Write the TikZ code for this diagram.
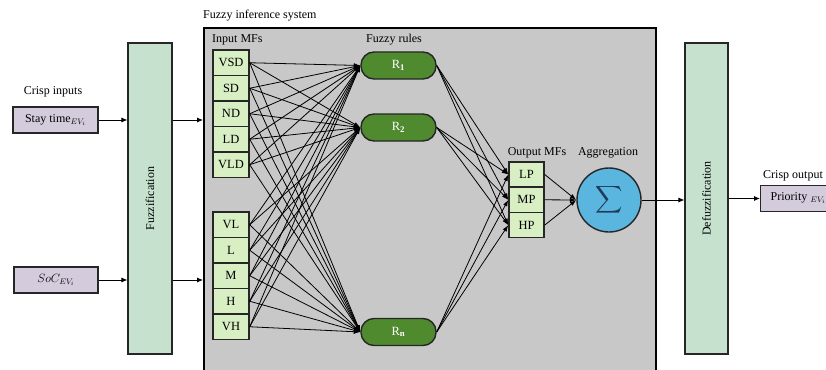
\documentclass[tikz,border=0pt]{standalone}
\usepackage{fontspec}
\setmainfont{Liberation Serif}
\usetikzlibrary{arrows.meta}
\definecolor{fisgrey}{HTML}{C8C8C8}
\definecolor{barfill}{HTML}{C6E2CF}
\definecolor{inbox}{HTML}{D4CCDC}
\definecolor{mffill}{HTML}{D8EFC4}
\definecolor{rulefill}{HTML}{4F8A2F}
\definecolor{sigfill}{HTML}{5AB6DE}
\definecolor{sigtext}{HTML}{1F3A5A}
\begin{document}
\begin{tikzpicture}[x=1pt,y=-1pt,
  font=\fontsize{12}{14}\selectfont,
  fisbox/.style={draw=black,line width=1.8pt,fill=fisgrey,minimum width=452pt,minimum height=360pt,anchor=north west,inner sep=0pt},
  barbox/.style={draw=black!85,line width=1.1pt,fill=barfill,minimum width=44pt,minimum height=311pt,inner sep=0pt},
  crispbox/.style={draw=black!85,line width=1.4pt,fill=inbox,minimum height=26pt,inner sep=2pt},
  mfbox/.style={draw=black!85,line width=1.4pt,fill=mffill,minimum width=36pt,minimum height=25.5pt,inner sep=0pt,font=\fontsize{12.5}{14}\selectfont},
  omfbox/.style={draw=black!85,line width=1.4pt,fill=mffill,minimum width=35pt,minimum height=25.3pt,inner sep=0pt,font=\fontsize{12.5}{14}\selectfont},
  rulebox/.style={draw=black!85,line width=1.4pt,fill=rulefill,rounded corners=13pt,minimum width=75pt,minimum height=27pt,inner sep=0pt,text=white,font=\fontsize{12.5}{14}\selectfont},
  sigbox/.style={circle,draw=black!85,line width=1.4pt,fill=sigfill,minimum size=64pt,inner sep=0pt,text=sigtext},
  lbl/.style={inner sep=0pt},
  arr/.style={line width=0.9pt,-{Latex[length=6pt,width=5pt]}},
  conn/.style={line width=0.8pt,-{Latex[length=6.5pt,width=4.5pt]}}
]
\useasboundingbox (0,0) rectangle (826,369);
\clip (0,0) rectangle (826,369);

% FIS box
\node[fisbox] (fis) at (203,27) {};
\node[lbl,anchor=west] (fistitle) at (203,16) {Fuzzy inference system};

% Crisp inputs
\node[lbl] (crispin) at (53,92) {Crisp inputs};
\node[crispbox,minimum width=85pt] (stay) at (55.5,120) {Stay time$_{EV_i}$};
\node[crispbox,minimum width=84pt] (soc) at (56,280) {$SoC_{EV_i}$};

% Fuzzification
\node[barbox] (fuzz) at (150,198.5) {};
\node[lbl,rotate=90] (fuzzt) at (fuzz.center) {Fuzzification};

% Defuzzification
\node[barbox,minimum width=43pt] (defuzz) at (706.5,198.5) {};
\node[lbl,rotate=90] (defuzzt) at (defuzz.center) {Defuzzification};

% arrows in
\draw[arr] (stay.east) -- (stay.east -| fuzz.west);
\draw[arr] (soc.east) -- (soc.east -| fuzz.west);
\coordinate (f1) at (stay.east -| fuzz.east);
\coordinate (f2) at (soc.east -| fuzz.east);
\draw[arr] (f1) -- (f1 -| fis.west);
\draw[arr] (f2) -- (f2 -| fis.west);

% Input MFs
\node[lbl,anchor=west] (inmf) at (212,40) {Input MFs};
\node[mfbox] (vsd) at (231,62.75) {VSD};
\node[mfbox] (sd)  at (231,88.25) {SD};
\node[mfbox] (nd)  at (231,113.75) {ND};
\node[mfbox] (ld)  at (231,139.25) {LD};
\node[mfbox] (vld) at (231,164.75) {VLD};
\node[mfbox] (vl)  at (231,224.75) {VL};
\node[mfbox] (l)   at (231,250.25) {L};
\node[mfbox] (m)   at (231,275.75) {M};
\node[mfbox] (h)   at (231,301.25) {H};
\node[mfbox] (vh)  at (231,326.75) {VH};

% Rules
\node[lbl] (rulest) at (394,40) {Fuzzy rules};
\node[rulebox] (r1) at (398.5,65.5) {R$_{\mathbf{1}}$};
\node[rulebox] (r2) at (398.5,127.5) {R$_{\mathbf{2}}$};
\node[rulebox] (rn) at (398.5,332) {R$_{\mathbf{n}}$};

\foreach \a in {vsd,sd,nd,ld,vld,vl,l,m,h,vh}{
  \foreach \r in {r1,r2,rn}{
    \draw[conn] (\a.east) -- (\r.west);
  }
}

% Output MFs
\node[lbl] (outmf) at (537,153) {Output MFs};
\node[omfbox] (lp) at (526.5,174.5) {LP};
\node[omfbox] (mp) at (526.5,199.8) {MP};
\node[omfbox] (hp) at (526.5,225.1) {HP};

\foreach \r in {r1,r2,rn}{
  \foreach \o in {lp,mp,hp}{
    \draw[conn] (\r.east) -- (\o.west);
  }
}

% Aggregation
\node[lbl] (aggt) at (608,153) {Aggregation};
\node[sigbox] (sig) at (609,200) {\scalebox{1.9}{$\displaystyle\sum$}};
\foreach \o in {lp,mp,hp}{
  \draw[conn] (\o.east) -- (sig.west);
}
\draw[arr] (sig.east) -- (sig.east -| defuzz.west);

% Crisp output
\node[lbl,anchor=west] (crispout) at (763,176) {Crisp output};
\node[crispbox,minimum width=75pt,anchor=west,minimum height=26pt] (prio) at (760,198.5) {Priority $_{EV_i}$};
\coordinate (d1) at (prio.west -| defuzz.east);
\draw[arr] (d1) -- (prio.west);
\end{tikzpicture}
\end{document}
